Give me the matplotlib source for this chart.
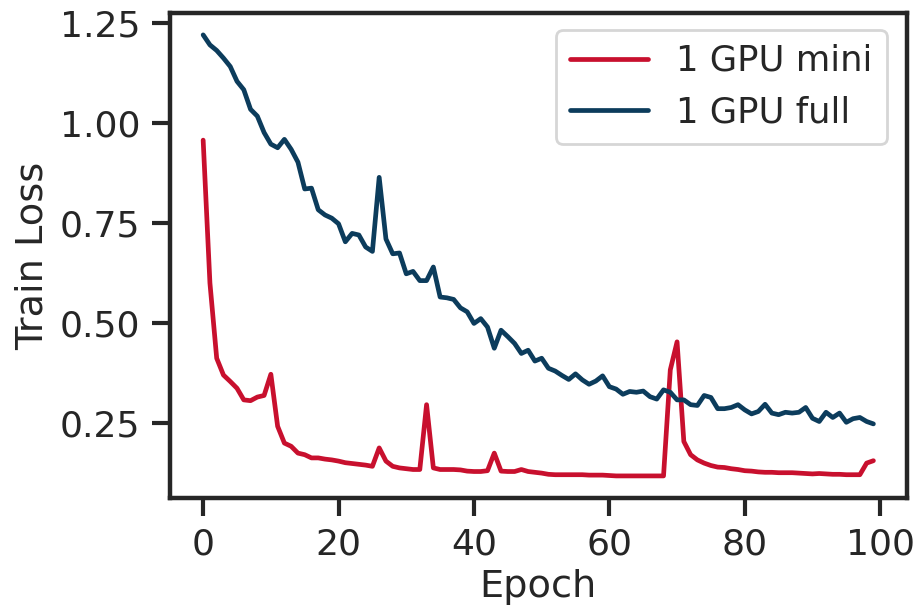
import numpy as np
import matplotlib
matplotlib.use("Agg")
import matplotlib.pyplot as plt
import seaborn as sns

sns.set_theme(style="ticks", context="poster")
plt.rcParams["font.family"] = ["DejaVu Sans"]

epochs = np.arange(100)

loss_mini = [
    0.957, 0.600, 0.412, 0.370, 0.354, 0.337, 0.308, 0.306, 0.315, 0.319,
    0.372, 0.242, 0.200, 0.192, 0.175, 0.171, 0.163, 0.163, 0.160, 0.158,
    0.155, 0.151, 0.149, 0.147, 0.145, 0.142, 0.188, 0.155, 0.142, 0.138,
    0.136, 0.134, 0.134, 0.296, 0.138, 0.134, 0.134, 0.134, 0.133, 0.130,
    0.129, 0.129, 0.131, 0.175, 0.130, 0.129, 0.129, 0.134, 0.129, 0.127,
    0.125, 0.122, 0.121, 0.121, 0.121, 0.121, 0.121, 0.120, 0.120, 0.120,
    0.119, 0.118, 0.118, 0.118, 0.118, 0.118, 0.118, 0.118, 0.118, 0.383,
    0.453, 0.204, 0.171, 0.158, 0.150, 0.144, 0.140, 0.139, 0.136, 0.134,
    0.131, 0.130, 0.128, 0.127, 0.127, 0.126, 0.126, 0.126, 0.125, 0.124,
    0.123, 0.124, 0.123, 0.122, 0.122, 0.121, 0.121, 0.121, 0.150, 0.156,
]

loss_full = [
    1.220, 1.195, 1.181, 1.162, 1.141, 1.104, 1.083, 1.034, 1.017, 0.976,
    0.947, 0.938, 0.959, 0.934, 0.902, 0.835, 0.837, 0.783, 0.770, 0.762,
    0.748, 0.703, 0.724, 0.720, 0.690, 0.679, 0.864, 0.710, 0.673, 0.675,
    0.623, 0.629, 0.606, 0.606, 0.640, 0.565, 0.563, 0.559, 0.538, 0.528,
    0.499, 0.511, 0.490, 0.437, 0.482, 0.466, 0.449, 0.424, 0.432, 0.405,
    0.412, 0.387, 0.380, 0.369, 0.359, 0.373, 0.358, 0.347, 0.355, 0.368,
    0.341, 0.335, 0.322, 0.329, 0.327, 0.330, 0.316, 0.310, 0.333, 0.327,
    0.308, 0.308, 0.296, 0.294, 0.319, 0.314, 0.286, 0.286, 0.289, 0.296,
    0.283, 0.273, 0.279, 0.297, 0.275, 0.271, 0.277, 0.275, 0.277, 0.289,
    0.262, 0.254, 0.277, 0.264, 0.275, 0.252, 0.261, 0.264, 0.254, 0.248,
]

labels = ["1 GPU mini", "1 GPU full"]
colors = ["#C8102E", "#0C3C5C"]

fig = plt.figure(figsize=(9.17, 6.11), dpi=100)
ax = fig.add_axes([0.185, 0.185, 0.804, 0.794])

ax.plot(epochs, loss_mini, color=colors[0], linewidth=3.4, label=labels[0])
ax.plot(epochs, loss_full, color=colors[1], linewidth=3.4, label=labels[1])

ax.set_xticks([0, 20, 40, 60, 80, 100])
ax.set_yticks([0.25, 0.50, 0.75, 1.00, 1.25])
ax.tick_params(labelsize=26, length=13, width=3, pad=8)
ax.set_xlabel("Epoch", fontsize=27.5, labelpad=6)
ax.set_ylabel("Train Loss", fontsize=27.5, labelpad=7)
for s in ax.spines.values():
    s.set_linewidth(3.2)

ax.legend(loc="upper right", bbox_to_anchor=(0.973, 0.965), borderaxespad=0,
          fontsize=25.5, handlelength=2.2)

fig.savefig("out.png", dpi=100)
